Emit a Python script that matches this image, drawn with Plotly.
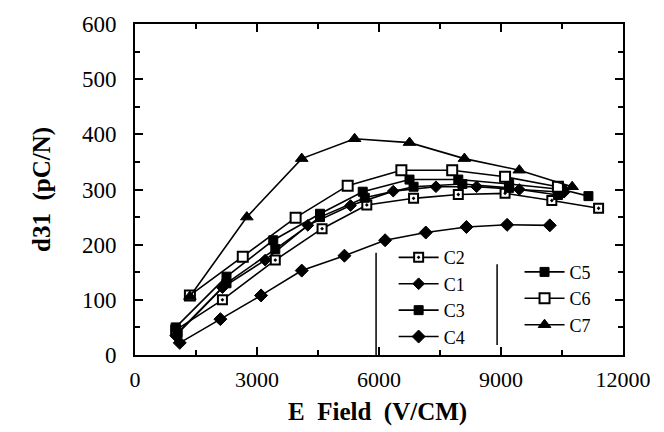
import plotly.graph_objects as go

# Data
c2_x = [1000, 2150, 3450, 4600, 5700, 6850, 7950, 9100, 10250, 11400]
c2_y = [45, 100, 172, 229, 272, 284, 291, 293, 280, 266]

c1_x = [1000, 2150, 3200, 4250, 5300, 6350, 7400, 8400, 9450, 10550]
c1_y = [35, 122, 172, 235, 271, 297, 305, 305, 300, 295]

c3_x = [1050, 2250, 3450, 4550, 5650, 6850, 8050, 9200, 10400]
c3_y = [40, 130, 192, 250, 285, 305, 310, 303, 290]

c4_x = [1100, 2100, 3100, 4100, 5150, 6150, 7150, 8150, 9150, 10200]
c4_y = [22, 65, 108, 153, 180, 208, 222, 232, 236, 235]

c5_x = [1000, 2250, 3400, 4550, 5600, 6750, 7950, 9200, 10500, 11150]
c5_y = [50, 142, 208, 256, 296, 318, 318, 310, 300, 288]

c6_x = [1350, 2650, 3950, 5230, 6550, 7800, 9100, 10400]
c6_y = [108, 178, 249, 307, 335, 335, 323, 305]

c7_x = [1350, 2750, 4100, 5400, 6750, 8100, 9450, 10750]
c7_y = [106, 250, 356, 392, 385, 356, 335, 305]

x_ticks = [0, 3000, 6000, 9000, 12000]
y_ticks = [0, 100, 200, 300, 400, 500, 600]

series = [
    ("C2", c2_x, c2_y, "square-dot", 9, "legend"),
    ("C1", c1_x, c1_y, "diamond", 9, "legend"),
    ("C3", c3_x, c3_y, "square", 9, "legend"),
    ("C4", c4_x, c4_y, "diamond", 10, "legend"),
    ("C5", c5_x, c5_y, "square", 9, "legend2"),
    ("C6", c6_x, c6_y, "square-open", 10, "legend2"),
    ("C7", c7_x, c7_y, "triangle-up", 11, "legend2"),
]

fig = go.Figure()
for name, xs, ys, sym, sz, lg in series:
    if sym == "square-dot":
        marker = dict(symbol="square-dot", size=sz, color="white",
                      line=dict(color="black", width=2))
    elif sym == "square-open":
        marker = dict(symbol="square", size=sz, color="white",
                      line=dict(color="black", width=2))
    else:
        marker = dict(symbol=sym, size=sz, color="black",
                      line=dict(color="black", width=1))
    fig.add_trace(go.Scatter(
        x=xs, y=ys, name=name, mode="lines+markers",
        line=dict(color="black", width=1.6),
        marker=marker, legend=lg,
    ))

font_serif = "Liberation Serif, Times New Roman, Times, serif"

fig.update_layout(
    width=664, height=432,
    margin=dict(l=135, r=41, t=15, b=77),
    paper_bgcolor="white", plot_bgcolor="white",
    font=dict(family=font_serif, size=21, color="black"),
    legend=dict(
        x=0.53, y=0.35, xanchor="left", yanchor="top",
        bgcolor="rgba(0,0,0,0)", font=dict(size=18, family=font_serif),
        tracegroupgap=0, itemwidth=40, traceorder="normal",
    ),
    legend2=dict(
        x=0.788, y=0.306, xanchor="left", yanchor="top",
        bgcolor="rgba(0,0,0,0)", font=dict(size=18, family=font_serif),
        tracegroupgap=0, itemwidth=40, traceorder="normal",
    ),
    shapes=[
        dict(type="line", xref="paper", yref="paper", x0=0.494, x1=0.494,
             y0=0.0, y1=0.309, line=dict(color="black", width=1.5)),
        dict(type="line", xref="paper", yref="paper", x0=0.742, x1=0.742,
             y0=0.03, y1=0.274, line=dict(color="black", width=1.5)),
    ],
    annotations=[
        dict(text="<b>E&nbsp;&nbsp;Field&nbsp;&nbsp;(V/CM)</b>", xref="paper", yref="paper",
             x=0.496, y=-0.172, xanchor="center", yanchor="middle",
             showarrow=False, font=dict(size=25, family=font_serif)),
    ],
)

fig.update_xaxes(
    range=[0, 12000], tickvals=x_ticks, ticktext=[str(v) for v in x_ticks],
    showline=True, linecolor="black", linewidth=2, mirror="allticks",
    ticks="inside", ticklen=8, tickwidth=1.5, tickcolor="black",
    minor=dict(ticks="inside", dtick=1500, ticklen=5, tickcolor="black"),
    showgrid=False, zeroline=False, ticklabelstandoff=4,
    tickfont=dict(size=22, family=font_serif),
)
fig.update_yaxes(
    range=[0, 600], tickvals=y_ticks, ticktext=[str(v) for v in y_ticks],
    showline=True, linecolor="black", linewidth=2, mirror="allticks",
    ticks="inside", ticklen=8, tickwidth=1.5, tickcolor="black",
    minor=dict(ticks="inside", dtick=50, ticklen=5, tickcolor="black"),
    showgrid=False, zeroline=False, ticklabelstandoff=12,
    tickfont=dict(size=23, family=font_serif),
    title=dict(text="<b>d31&nbsp;&nbsp;(pC/N)</b>", standoff=24,
               font=dict(size=25, family=font_serif)),
)

fig.write_html("out.html")
